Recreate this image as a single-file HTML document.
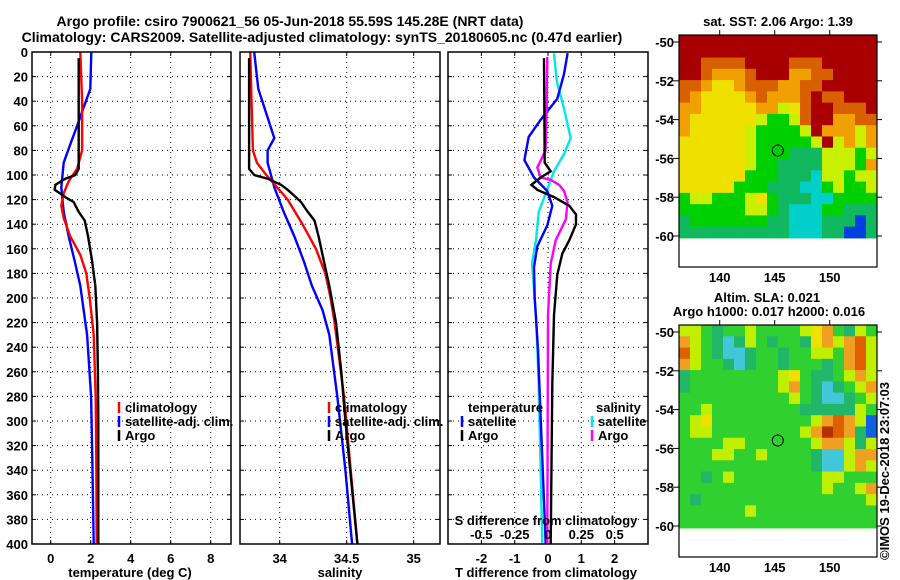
<!DOCTYPE html>
<html><head><meta charset="utf-8"><style>
body{margin:0;background:#fff;}
svg{display:block;font-family:"Liberation Sans",sans-serif;font-weight:bold;}
text{font-size:13px;fill:#000;}
</style></head><body>
<svg id="c" width="900" height="580" viewBox="0 0 900 580">
<text x="290" y="26" text-anchor="middle" style="font-size:14px">Argo profile: csiro 7900621_56 05-Jun-2018 55.59S 145.28E (NRT data)</text>
<text x="322" y="42" text-anchor="middle" style="font-size:14px">Climatology: CARS2009. Satellite-adjusted climatology: synTS_20180605.nc (0.47d earlier)</text>
<text x="778" y="26" text-anchor="middle">sat. SST: 2.06 Argo: 1.39</text>
<text x="767" y="302" text-anchor="middle">Altim. SLA: 0.021</text>
<text x="769" y="316" text-anchor="middle">Argo h1000: 0.017 h2000: 0.016</text>
<text transform="translate(889,560) rotate(-90)">©IMOS 19-Dec-2018 23:07:03</text>
</svg>
<script>
// ---- data ----
const depthArgo=[5,50,95,100,103,108,112,118,122,130,137,150,170,190,220,260,300,400];
const tempArgo=[1.4,1.4,1.4,1.23,0.73,0.23,0.2,0.73,1.15,1.4,1.7,1.87,2.07,2.23,2.32,2.36,2.38,2.38];
const depthClim=[0,40,80,95,105,115,125,135,150,165,180,200,230,280,330,400];
const tempClim=[1.48,1.57,1.57,1.32,0.9,0.65,0.53,0.65,0.98,1.48,1.78,1.95,2.15,2.25,2.28,2.3];
const depthSat=[0,30,45,60,75,90,110,130,150,170,190,210,230,280,330,400];
const tempSat=[2.03,1.98,1.65,1.32,0.98,0.65,0.53,0.65,0.9,1.2,1.48,1.65,1.82,2.02,2.08,2.15];
const salArgo=[33.772,33.772,33.772,33.81,33.91,34.01,34.06,34.12,34.16,34.21,34.26,34.29,34.33,34.37,34.42,34.46,34.49,34.58];
const salDepthClim=[0,80,90,100,120,140,160,180,200,220,280,340,400];
const salClim=[33.78,33.80,33.83,33.9,34.06,34.17,34.27,34.34,34.38,34.41,34.48,34.53,34.58];
const salDepthSat=[0,30,50,70,80,90,110,130,150,170,190,210,230,280,340,400];
const salSat=[33.81,33.84,33.9,33.96,33.91,33.91,33.96,34.03,34.11,34.18,34.24,34.32,34.37,34.43,34.49,34.54];
const dDepthArgoT=[5,90,97,102,108,112,118,125,132,140,153,164,181,214,270,400];
const dTArgo=[-0.12,-0.1,0.08,-0.22,-0.5,-0.32,0.18,0.64,0.84,0.84,0.64,0.43,0.28,0.18,0.13,0.08];
const dDepthSatT=[1,18,38,55,69,88,102,113,125,141,158,175,200,242,298,400];
const dTSat=[0.59,0.48,0.28,-0.22,-0.58,-0.71,-0.42,-0.02,0.13,-0.02,-0.32,-0.42,-0.4,-0.3,-0.22,-0.07];
const dDepthSatS=[1,24,46,70,83,97,113,130,153,172,214,270,400];
const dSSat=[0.045,0.066,0.12,0.17,0.12,0.045,-0.01,-0.07,-0.09,-0.12,-0.09,-0.07,-0.043];
const dDepthArgoS=[4,46,80,94,102,104,108,113,122,136,153,172,214,400];
const dSArgo=[-0.005,-0.01,-0.018,-0.08,-0.055,0.02,0.083,0.12,0.146,0.134,0.058,0.02,0,-0.005];
const depthTicks=[0,20,40,60,80,100,120,140,160,180,200,220,240,260,280,300,320,340,360,380,400];
const tTicks=[0,2,4,6,8];
const sTicks=[34,34.5,35];
const dtTicks=[-2,-1,0,1,2];
const dsTicks=[-0.5,-0.25,0,0.25,0.5];
const dsTickLabels=["-0.5","-0.25","0","0.25","0.5"];
const latTicks=[-50,-52,-54,-56,-58,-60];
const lonTicks=[140,145,150];
const sstGrid=[
"RRRRRRRRRRRRRRRRRR","RRRRRRRRRRRRRRRRRR","RROOOORRRROOORRRRR","RROoooORRRooOORRRR",
"OOoYYoOOOooOORRRRR","OoYYYYoOoooOROORRR","ooYYYYYooyYORROOOR","oYYYYYYyGGyORRooOO",
"oYYYYYyGGGGyRoooyo","YYYYYYyGGGGGyRyoyo","YYYYYYyGGGgggyyyGy","YYYYYYyGGggggyyyGo",
"YYYYYYGGGgggCyyGyy","YYYYYGGGgggCCGyGGy","GyyGGGyYGgggCCGGGG","GGGGGGyyGgCCCGGggg",
"gGGGGGGGggCCCgggBg","ggggggggggCCCggBBg"];
const slaGrid=[
"yyGgGGyGGGGyYoGgyG","oyGgCgyGgGGgYoyoOy","OyGgCCgGGgGGyyGoOy","oyGGgCgGGgGGGgGoOy",
"gGGGGGGGGyYGggGyoy","gGGGGGGGGyoGgCgGyo","GGGGGGGGGGyGgCCgGy","GGyGGGGGGGGgggggyG",
"GyYGGGGGGGGGyoOoyB","GyyGGGGGGGGyoROogB","GGGGyyGGGGGGyooygy","GGGyyGGyGGGGgCCyoo",
"GGGGGGGGGGGGgCCyoy","GGgGyGGGGGGGGyyGGG","GGGGGGGGGGGGGyGGyo","GgGGGGGGGGGGGGGGGy",
"GGGGGGyGGGGGGGGGGG","GGGGGGGGGGGGGGGGGG"];
const argoLon=145.28, argoLat=-55.59;
// ---- drawing ----
const NS="http://www.w3.org/2000/svg";
const svg=document.getElementById('c');
function mk(tag,attrs,parent){const e=document.createElementNS(NS,tag);for(const k in attrs)e.setAttribute(k,attrs[k]);(parent||svg).appendChild(e);return e;}
const yD=d=>52+d*(492/400);
function panel(x0,x1,name){
  const g=mk('g',{});
  
  
  return g;
}
function hgrid(g,x0,x1){depthTicks.forEach(d=>{if(d>0&&d<400){const l=mk('line',{x1:x0,x2:x1,y1:yD(d),y2:yD(d),stroke:'#000','stroke-dasharray':'1,4'},g);}
 mk('line',{x1:x0,x2:x0+4,y1:yD(d),y2:yD(d),stroke:'#000'},g);mk('line',{x1:x1-4,x2:x1,y1:yD(d),y2:yD(d),stroke:'#000'},g);});}
function vgrid(g,xs){xs.forEach(x=>{const l=mk('line',{x1:x,x2:x,y1:52,y2:544,stroke:'#000','stroke-dasharray':'1,4'},g);mk('line',{x1:x,x2:x,y1:540,y2:544,stroke:'#000'},g);mk('line',{x1:x,x2:x,y1:52,y2:56,stroke:'#000'},g);});}
function line(g,xs,ds,fx,color,name,w){
  const pts=xs.map((v,i)=>fx(v).toFixed(1)+','+yD(ds[i]).toFixed(1)).join(' ');
  const p=mk('polyline',{points:pts,fill:'none',stroke:color,'stroke-width':w||2.4},g);
  
  
}
function frame(g,x0,x1){const r=mk('rect',{x:x0,y:52,width:x1-x0,height:492,fill:'none',stroke:'#000','stroke-width':1.5},g);}
function txt(g,x,y,s,anchor,name){const t=mk('text',{x:x,y:y,'text-anchor':anchor||'start'},g);t.textContent=s;return t;}
function legend(g,x,y,color,label,name){const l=mk('line',{x1:x,x2:x,y1:y-10,y2:y+1,stroke:color,'stroke-width':2.5},g);txt(g,x+6,y,label,'start',name);}
depthTicks.forEach(d=>{const t=mk('text',{x:28,y:yD(d)+5,'text-anchor':'end'});t.textContent=d;});
// panel 1 temperature
const xT=v=>50.7+20*v;
const p1=panel(32,231,'temperature-panel');
hgrid(p1,32,231);vgrid(p1,tTicks.map(xT));
line(p1,tempSat,depthSat,xT,'#0000ff','satellite-adj-temp-line');
line(p1,tempClim,depthClim,xT,'#ff0000','climatology-temp-line');
line(p1,tempArgo,depthArgo,xT,'#000','argo-temp-line');
frame(p1,32,231);
tTicks.forEach(v=>txt(p1,xT(v),563,v,'middle','temp-tick-label'));
txt(p1,130,577,'temperature (deg C)','middle','temp-axis-title');
legend(p1,119,412,'#ff0000','climatology','legend-climatology');
legend(p1,119,426,'#0000ff','satellite-adj. clim.','legend-satellite-adj');
legend(p1,119,440,'#000','Argo','legend-argo');
// panel 2 salinity
const xS=v=>240.3+(v-33.706)*134;
const p2=panel(240,440,'salinity-panel');
hgrid(p2,240,440);vgrid(p2,sTicks.map(xS));
line(p2,salSat,salDepthSat,xS,'#0000ff','satellite-adj-sal-line');
line(p2,salClim,salDepthClim,xS,'#ff0000','climatology-sal-line');
line(p2,salArgo,depthArgo,xS,'#000','argo-sal-line');
frame(p2,240,440);
sTicks.forEach(v=>txt(p2,xS(v),563,v,'middle','sal-tick-label'));
txt(p2,340,577,'salinity','middle','sal-axis-title');
legend(p2,329,412,'#ff0000','climatology','legend-climatology-2');
legend(p2,329,426,'#0000ff','satellite-adj. clim.','legend-satellite-adj-2');
legend(p2,329,440,'#000','Argo','legend-argo-2');
// panel 3 differences
const xdT=v=>548+33.3*v;
const xdS=v=>548+133.3*v;
const p3=panel(448,648,'difference-panel');
hgrid(p3,448,648);vgrid(p3,dtTicks.map(xdT));
line(p3,dSSat,dDepthSatS,xdS,'#00e8e8','satellite-sal-diff-line');
line(p3,dTSat,dDepthSatT,xdT,'#0000ff','satellite-temp-diff-line');
line(p3,dSArgo,dDepthArgoS,xdS,'#ff00ff','argo-sal-diff-line');
line(p3,dTArgo,dDepthArgoT,xdT,'#000','argo-temp-diff-line');
frame(p3,448,648);
dtTicks.forEach(v=>txt(p3,xdT(v),563,v,'middle','t-diff-tick-label'));
txt(p3,546,577,'T difference from climatology','middle','t-diff-axis-title');
txt(p3,546,525,'S difference from climatology','middle','s-diff-axis-title');
dsTicks.forEach((v,i)=>txt(p3,xdS(v),539,dsTickLabels[i],'middle','s-diff-tick-label'));
txt(p3,468,412,'temperature','start','legend-temperature-heading');
legend(p3,462,426,'#0000ff','satellite','legend-t-satellite');
legend(p3,462,440,'#000','Argo','legend-t-argo');
txt(p3,596,412,'salinity','start','legend-salinity-heading');
legend(p3,592,426,'#00e8e8','satellite','legend-s-satellite');
legend(p3,592,440,'#ff00ff','Argo','legend-s-argo');
// maps
const sstCol={R:'#a80000',O:'#d86000',o:'#f0a000',Y:'#f0e000',y:'#c8f000',G:'#00d000',g:'#10b860',C:'#00d0c8',B:'#0040e0'};
const slaCol={G:'#30d030',g:'#20b868',y:'#c0f000',Y:'#f0e000',o:'#f0a020',O:'#e06000',R:'#b83000',C:'#40c8d8',B:'#1060e0'};
const lonX=lon=>679+(lon-136.3)*11;
function map(top,grid,cols,name){
  const g=mk('g',{});
  
  
  const latY=lat=>top+7+(-50-lat)*19.4;
  const dataTop=top, dataBot=latY(-60.1), rh=(dataBot-dataTop)/grid.length, cw=198/grid[0].length;
  grid.forEach((row,r)=>{[...row].forEach((ch,c)=>{mk('rect',{x:(679+c*cw).toFixed(2),y:(dataTop+r*rh).toFixed(2),width:(cw+0.5).toFixed(2),height:(rh+0.5).toFixed(2),fill:cols[ch]},g);});});
  const fr=mk('rect',{x:679,y:top,width:198,height:232,fill:'none',stroke:'#000','stroke-width':1.2},g);
  
  latTicks.forEach(l=>{const y=latY(l);mk('line',{x1:673,x2:679,y1:y,y2:y,stroke:'#000'},g);mk('line',{x1:877,x2:882,y1:y,y2:y,stroke:'#000'},g);txt(g,674,y+5,l,'end','lat-tick-label');});
  lonTicks.forEach(l=>{const x=lonX(l);mk('line',{x1:x,x2:x,y1:top-5,y2:top,stroke:'#000'},g);txt(g,x,top+247,l,'middle','lon-tick-label');});
  const c=mk('circle',{cx:lonX(argoLon),cy:latY(argoLat),r:5.5,fill:'none',stroke:'#000','stroke-width':1},g);
  
}
map(35,sstGrid,sstCol,'sst-map');
map(325,slaGrid,slaCol,'sla-map');
</script>
</body></html>
